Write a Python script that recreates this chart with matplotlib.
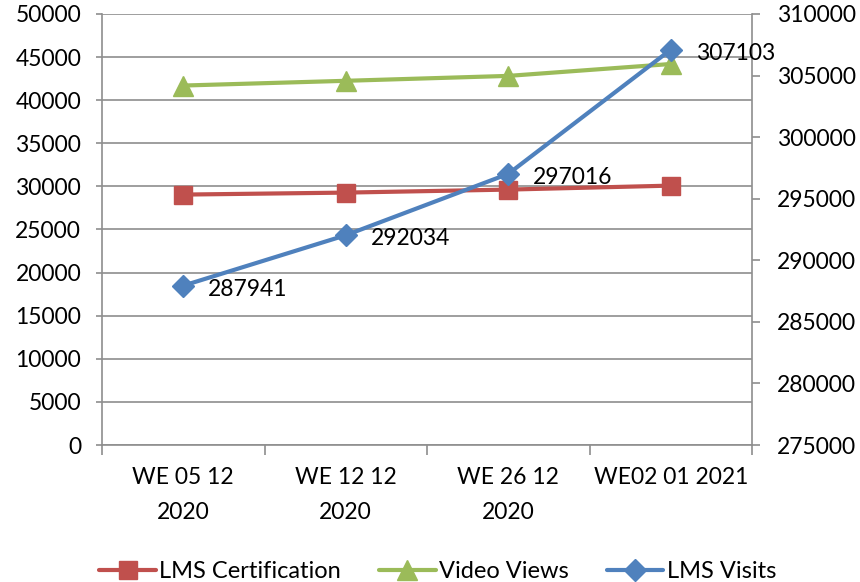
import matplotlib
matplotlib.use("Agg")
import matplotlib.pyplot as plt
import numpy as np

categories = ["WE 05 12\n2020", "WE 12 12\n2020", "WE 26 12\n2020", "WE02 01 2021"]
lms_certification = [29050, 29280, 29630, 30090]
video_views = [41700, 42250, 42820, 44200]
lms_visits = [287941, 292034, 297016, 307103]

left_ticks = list(range(0, 50001, 5000))
right_ticks = list(range(275000, 310001, 5000))

plt.rcParams['font.family'] = ['Lato', 'DejaVu Sans']
FS = 16.5
GRID = '#8E8E8E'
RED = '#C0504D'
GREEN = '#9BBB59'
BLUE = '#4F81BD'

fig = plt.figure(figsize=(8.6, 5.82), dpi=100)
ax = fig.add_axes([102/860, 1-445/582, (752-102)/860, (445-14)/582])
ax2 = ax.twinx()

x = np.arange(len(categories))

l1, = ax.plot(x, lms_certification, color=RED, lw=3, marker='s', ms=12.5,
              label='LMS Certification', solid_capstyle='round')
l2, = ax.plot(x, video_views, color=GREEN, lw=3, marker='^', ms=14,
              label='Video Views', solid_capstyle='round')
l3, = ax2.plot(x, lms_visits, color=BLUE, lw=3, marker='D', ms=11,
               label='LMS Visits', solid_capstyle='round')

for xi, v in zip(x, lms_visits):
    ax2.annotate(str(v), (xi, v), xytext=(18, -2.5), textcoords='offset points',
                 ha='left', va='center', fontsize=FS, color='black')

ax.set_xlim(-0.5, len(categories) - 0.5)
ax.set_ylim(0, 50000)
ax2.set_ylim(275000, 310000)
ax.set_yticks(left_ticks)
ax2.set_yticks(right_ticks)
ax.set_yticklabels([str(t) for t in left_ticks], fontsize=FS)
ax2.set_yticklabels([str(t) for t in right_ticks], fontsize=FS)

ax.set_xticks(np.arange(-0.5, len(categories), 1.0))
ax.set_xticklabels([])
ax.set_xticks(x, minor=True)
ax.set_xticklabels(categories, minor=True, fontsize=FS, linespacing=1.8)
ax.tick_params(axis='x', which='major', length=7, width=1.2, color=GRID, direction='out')
ax.tick_params(axis='x', which='minor', length=0, pad=16)
ax.tick_params(axis='y', length=4, width=1.2, color=GRID, direction='out', pad=11)
ax2.tick_params(axis='y', length=6, width=1.2, color=GRID, direction='out', pad=12)

ax.yaxis.grid(True, color=GRID, lw=1.2)
ax.set_axisbelow(True)

for a in (ax, ax2):
    a.spines['top'].set_visible(False)
    for s in ('left', 'right', 'bottom'):
        a.spines[s].set_color(GRID)
        a.spines[s].set_linewidth(1.2)
ax.spines['right'].set_visible(False)
ax2.spines['left'].set_visible(False)
ax2.spines['bottom'].set_visible(False)

fig.legend(handles=[l1, l2, l3], loc='center', bbox_to_anchor=(0.509, 0.018),
           ncol=3, frameon=False, fontsize=17, handlelength=2.4,
           handletextpad=0.15, columnspacing=1.6)

fig.savefig('out.png', dpi=100)
